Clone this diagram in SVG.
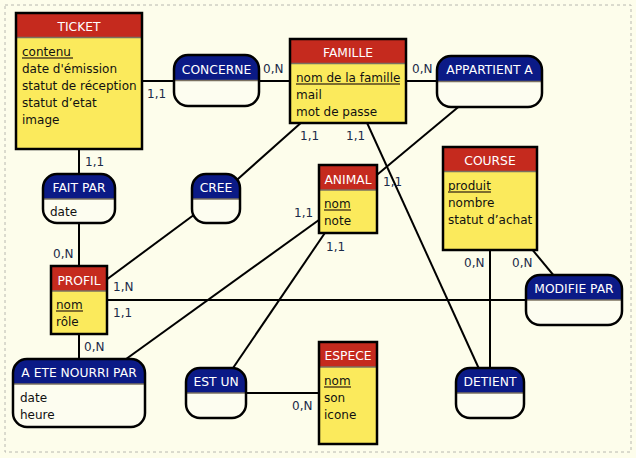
<svg xmlns="http://www.w3.org/2000/svg" width="636" height="458" viewBox="0 0 636 458">
<style>
text{font-family:"DejaVu Sans",Verdana,sans-serif;font-size:12px}
.bg{fill:#fdfdeb}
.frame{fill:none;stroke:#b8b8b0;stroke-width:1;stroke-dasharray:3,3}
.link{stroke:#000;stroke-width:2;fill:none}
.ehead{fill:#c52a1e}
.ebody{fill:#fbea5c}
.ahead{fill:#0b1a86}
.abody{fill:#fdfdf0}
.sep{stroke:#7a7060;stroke-width:1.5}
.out{fill:none;stroke:#000;stroke-width:2.5}
.title{fill:#fff;text-anchor:middle;font-size:12.3px}
.attr{fill:#111}
.ul{stroke:#7d6d2e;stroke-width:2}
.card{fill:#1b2a48}
</style>
<rect class="bg" x="0" y="0" width="636" height="458"/>
<rect class="frame" x="5" y="5" width="626" height="447"/>

<g id="connectors">
<line class="link" x1="79" y1="81" x2="348" y2="81"/>
<line class="link" x1="348" y1="81" x2="489.5" y2="81"/>
<line class="link" x1="489.5" y1="81" x2="348" y2="199"/>
<line class="link" x1="216" y1="198.5" x2="348" y2="81"/>
<line class="link" x1="216" y1="198.5" x2="79" y2="300"/>
<line class="link" x1="79" y1="81" x2="79" y2="393"/>
<line class="link" x1="79" y1="393" x2="348" y2="199"/>
<line class="link" x1="79" y1="300" x2="574" y2="300"/>
<line class="link" x1="490" y1="198.5" x2="574" y2="300"/>
<line class="link" x1="490" y1="198.5" x2="490" y2="393"/>
<line class="link" x1="348" y1="81" x2="490" y2="393"/>
<line class="link" x1="348" y1="199" x2="216" y2="393"/>
<line class="link" x1="216" y1="393" x2="348" y2="393"/>
<text class="card" x="147" y="98">1,1</text>
<text class="card" x="263" y="73">0,N</text>
<text class="card" x="412" y="73">0,N</text>
<text class="card" x="300" y="140">1,1</text>
<text class="card" x="346" y="140">1,1</text>
<text class="card" x="85" y="166">1,1</text>
<text class="card" x="53" y="258">0,N</text>
<text class="card" x="113" y="291">1,N</text>
<text class="card" x="113" y="317">1,1</text>
<text class="card" x="84" y="351">0,N</text>
<text class="card" x="292" y="410">0,N</text>
<text class="card" x="383" y="186">1,1</text>
<text class="card" x="294" y="217">1,1</text>
<text class="card" x="326" y="251">1,1</text>
<text class="card" x="464" y="267">0,N</text>
<text class="card" x="512" y="267">0,N</text>
</g>

<g id="ticket">
<rect class="ebody" x="16" y="13" width="126" height="136"/>
<rect class="ehead" x="16" y="13" width="126" height="24.5"/>
<line class="sep" x1="16" y1="37.5" x2="142" y2="37.5"/>
<rect class="out" x="16" y="13" width="126" height="136"/>
<text class="title" x="79" y="31">TICKET</text>
<text class="attr" x="22" y="56">contenu</text>
<line class="ul" x1="22" y1="58" x2="73" y2="58"/>
<text class="attr" x="22" y="73">date d'émission</text>
<text class="attr" x="22" y="90">statut de réception</text>
<text class="attr" x="22" y="107">statut d’etat</text>
<text class="attr" x="22" y="124">image</text>
</g>

<g id="famille">
<rect class="ebody" x="290" y="39" width="116" height="84"/>
<rect class="ehead" x="290" y="39" width="116" height="24.5"/>
<line class="sep" x1="290" y1="63.5" x2="406" y2="63.5"/>
<rect class="out" x="290" y="39" width="116" height="84"/>
<text class="title" x="348" y="57">FAMILLE</text>
<text class="attr" x="296" y="82">nom de la famille</text>
<line class="ul" x1="296" y1="84" x2="400" y2="84"/>
<text class="attr" x="296" y="99">mail</text>
<text class="attr" x="296" y="116">mot de passe</text>
</g>

<g id="course">
<rect class="ebody" x="443" y="147" width="94" height="103"/>
<rect class="ehead" x="443" y="147" width="94" height="24.5"/>
<line class="sep" x1="443" y1="171.5" x2="537" y2="171.5"/>
<rect class="out" x="443" y="147" width="94" height="103"/>
<text class="title" x="490" y="165">COURSE</text>
<text class="attr" x="448" y="190">produit</text>
<line class="ul" x1="448" y1="192" x2="491" y2="192"/>
<text class="attr" x="448" y="207">nombre</text>
<text class="attr" x="448" y="224">statut d’achat</text>
</g>

<g id="animal">
<rect class="ebody" x="319" y="165" width="58" height="68"/>
<rect class="ehead" x="319" y="165" width="58" height="25"/>
<line class="sep" x1="319" y1="190" x2="377" y2="190"/>
<rect class="out" x="319" y="165" width="58" height="68"/>
<text class="title" x="348" y="184">ANIMAL</text>
<text class="attr" x="324" y="208">nom</text>
<line class="ul" x1="324" y1="210" x2="351" y2="210"/>
<text class="attr" x="324" y="225">note</text>
</g>

<g id="espece">
<rect class="ebody" x="319" y="342" width="58" height="102"/>
<rect class="ehead" x="319" y="342" width="58" height="25"/>
<line class="sep" x1="319" y1="367" x2="377" y2="367"/>
<rect class="out" x="319" y="342" width="58" height="102"/>
<text class="title" x="348" y="360">ESPECE</text>
<text class="attr" x="324" y="385">nom</text>
<line class="ul" x1="324" y1="387" x2="351" y2="387"/>
<text class="attr" x="324" y="402">son</text>
<text class="attr" x="324" y="419">icone</text>
</g>

<g id="profil">
<rect class="ebody" x="51" y="266" width="56" height="68"/>
<rect class="ehead" x="51" y="266" width="56" height="25"/>
<line class="sep" x1="51" y1="291" x2="107" y2="291"/>
<rect class="out" x="51" y="266" width="56" height="68"/>
<text class="title" x="79" y="285">PROFIL</text>
<text class="attr" x="56" y="309">nom</text>
<line class="ul" x1="56" y1="311" x2="83" y2="311"/>
<text class="attr" x="56" y="326">rôle</text>
</g>

<g id="concerne">
<rect class="abody" x="174" y="55" width="85" height="51" rx="14"/>
<path class="ahead" d="M174 80V69A14 14 0 0 1 188 55H245A14 14 0 0 1 259 69V80Z"/>
<line class="sep" x1="174" y1="80.5" x2="259" y2="80.5"/>
<rect class="out" x="174" y="55" width="85" height="51" rx="14"/>
<text class="title" x="216.5" y="74">CONCERNE</text>
</g>

<g id="appartient">
<rect class="abody" x="437" y="56" width="105" height="51" rx="14"/>
<path class="ahead" d="M437 81V70A14 14 0 0 1 451 56H528A14 14 0 0 1 542 70V81Z"/>
<line class="sep" x1="437" y1="81.5" x2="542" y2="81.5"/>
<rect class="out" x="437" y="56" width="105" height="51" rx="14"/>
<text class="title" x="489.5" y="74">APPARTIENT A</text>
</g>

<g id="fait-par">
<rect class="abody" x="43" y="174" width="72" height="49" rx="14"/>
<path class="ahead" d="M43 199V188A14 14 0 0 1 57 174H101A14 14 0 0 1 115 188V199Z"/>
<line class="sep" x1="43" y1="199" x2="115" y2="199"/>
<rect class="out" x="43" y="174" width="72" height="49" rx="14"/>
<text class="title" x="79" y="192">FAIT PAR</text>
<text class="attr" x="50" y="216">date</text>
</g>

<g id="cree">
<rect class="abody" x="192" y="174" width="48" height="49" rx="14"/>
<path class="ahead" d="M192 199V188A14 14 0 0 1 206 174H226A14 14 0 0 1 240 188V199Z"/>
<line class="sep" x1="192" y1="199" x2="240" y2="199"/>
<rect class="out" x="192" y="174" width="48" height="49" rx="14"/>
<text class="title" x="216" y="192">CREE</text>
</g>

<g id="modifie-par">
<rect class="abody" x="526" y="275" width="96" height="50" rx="14"/>
<path class="ahead" d="M526 300V289A14 14 0 0 1 540 275H608A14 14 0 0 1 622 289V300Z"/>
<line class="sep" x1="526" y1="300" x2="622" y2="300"/>
<rect class="out" x="526" y="275" width="96" height="50" rx="14"/>
<text class="title" x="574" y="293">MODIFIE PAR</text>
</g>

<g id="a-ete-nourri-par">
<rect class="abody" x="13" y="359" width="132" height="68" rx="14"/>
<path class="ahead" d="M13 384V373A14 14 0 0 1 27 359H131A14 14 0 0 1 145 373V384Z"/>
<line class="sep" x1="13" y1="384" x2="145" y2="384"/>
<rect class="out" x="13" y="359" width="132" height="68" rx="14"/>
<text class="title" x="79" y="377">A ETE NOURRI PAR</text>
<text class="attr" x="20" y="402">date</text>
<text class="attr" x="20" y="419">heure</text>
</g>

<g id="est-un">
<rect class="abody" x="186" y="368" width="60" height="50" rx="14"/>
<path class="ahead" d="M186 393V382A14 14 0 0 1 200 368H232A14 14 0 0 1 246 382V393Z"/>
<line class="sep" x1="186" y1="393" x2="246" y2="393"/>
<rect class="out" x="186" y="368" width="60" height="50" rx="14"/>
<text class="title" x="216" y="386">EST UN</text>
</g>

<g id="detient">
<rect class="abody" x="456" y="368" width="68" height="50" rx="14"/>
<path class="ahead" d="M456 393V382A14 14 0 0 1 470 368H510A14 14 0 0 1 524 382V393Z"/>
<line class="sep" x1="456" y1="393" x2="524" y2="393"/>
<rect class="out" x="456" y="368" width="68" height="50" rx="14"/>
<text class="title" x="490" y="386">DETIENT</text>
</g>
</svg>
